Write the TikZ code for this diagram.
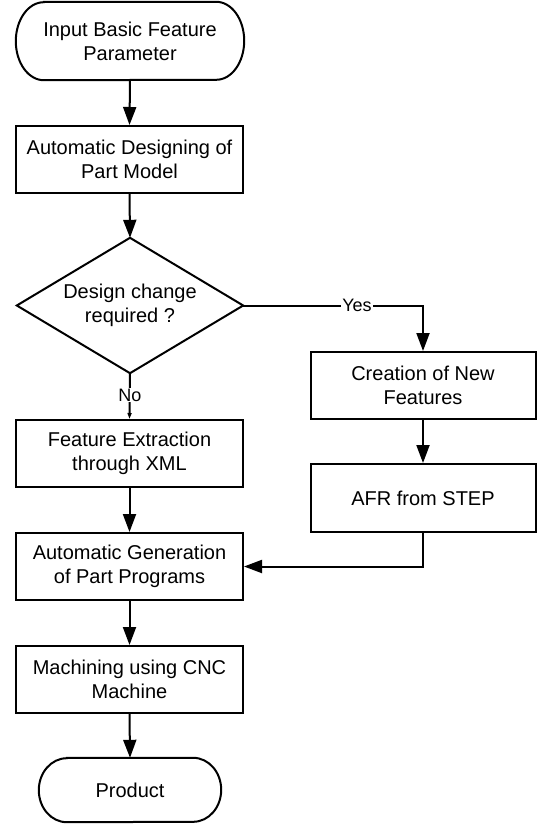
\documentclass[tikz,border=0pt]{standalone}
\usepackage{fontspec}
\setmainfont{Liberation Sans}
\usetikzlibrary{arrows.meta}
\newcommand\stadium[3]{%
  \draw[line width=2pt] ([xshift=#2]#1.north west) -- ([xshift=-#2]#1.north east)
    arc[start angle=90,end angle=-90,x radius=#2,y radius=#3]
    -- ([xshift=#2]#1.south west)
    arc[start angle=270,end angle=90,x radius=#2,y radius=#3] -- cycle;}
\begin{document}
\begin{tikzpicture}[x=1pt,y=1pt,
  every node/.style={font=\fontsize{20}{24}\selectfont, align=center, inner sep=0pt},
  box/.style={draw, line width=2pt, minimum width=227pt, minimum height=67pt},
  arr/.style={line width=2pt, -{Triangle[length=18pt,width=13pt]}},
  smallarr/.style={line width=2pt, -{Triangle[length=6pt,width=4pt]}},
  lbl/.style={fill=white, font=\fontsize{18}{20}\selectfont, inner sep=1pt}]
\useasboundingbox (0,0) rectangle (536,-824);
% left column
\node (start) [minimum width=228pt, minimum height=78pt] at (130,-41) {Input Basic Feature\\Parameter};
\stadium{start}{28pt}{39pt}
\node (design) [box] at (129.5,-159.5) {Automatic Designing of\\Part Model};
\node (dia) [minimum width=226pt, minimum height=135pt] at (130,-305.5) {Design change\\required ?};
\draw[line width=2pt, line join=miter] (dia.north) -- (dia.east) -- (dia.south) -- (dia.west) -- cycle;
\node (feat) [box] at (129.5,-453.5) {Feature Extraction\\through XML};
\node (auto) [box] at (129.5,-566.5) {Automatic Generation\\of Part Programs};
\node (mach) [box] at (129.5,-679.5) {Machining using CNC\\Machine};
\node (prod) [minimum width=182pt, minimum height=64pt] at (130,-790) {Product};
\stadium{prod}{28pt}{32pt}
% right column
\node (create) [box, minimum width=225pt] at (423,-385.5) {Creation of New\\Features};
\node (afr) [box, minimum width=225pt, minimum height=68pt] at (423,-498) {AFR from STEP};
% connectors
\draw[arr] (start.south) -- (design.north);
\draw[arr] (design.south) -- (dia.north);
\draw[smallarr] (dia.south) -- node[lbl, pos=0.48]{No} (feat.north);
\draw[arr] (dia.east) -- node[lbl, pos=0.633]{Yes} (dia.east -| create.north) -- (create.north);
\draw[arr] (create.south) -- (afr.north);
\draw[arr] (afr.south) |- (auto.east);
\draw[arr] (feat.south) -- (auto.north);
\draw[arr] (auto.south) -- (mach.north);
\draw[arr] (mach.south) -- (prod.north);
\end{tikzpicture}
\end{document}
